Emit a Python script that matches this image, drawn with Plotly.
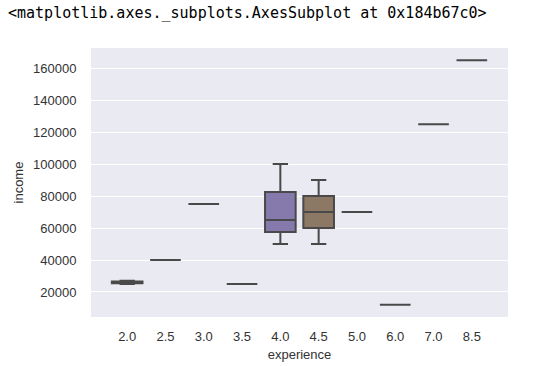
import plotly.graph_objects as go

experience = ["2.0", "2.5", "3.0", "3.5", "4.0", "4.5", "5.0", "6.0", "7.0", "8.5"]
q1 = [25500, 40000, 75000, 25000, 57500, 60000, 70000, 12000, 125000, 165000]
median = [26000, 40000, 75000, 25000, 65000, 70000, 70000, 12000, 125000, 165000]
q3 = [26500, 40000, 75000, 25000, 82500, 80000, 70000, 12000, 125000, 165000]
lower = [25000, 40000, 75000, 25000, 50000, 50000, 70000, 12000, 125000, 165000]
upper = [27000, 40000, 75000, 25000, 100000, 90000, 70000, 12000, 125000, 165000]
colors = ["#5975A4", "#CC8963", "#5F9E6E", "#B55D60", "#857AAB",
          "#8D7866", "#D095BF", "#8C8C8C", "#C1B37F", "#71AEC0"]
yticks = [20000, 40000, 60000, 80000, 100000, 120000, 140000, 160000]

fig = go.Figure()
for i, cat in enumerate(experience):
    fig.add_trace(go.Box(
        x=[cat], q1=[q1[i]], median=[median[i]], q3=[q3[i]],
        lowerfence=[lower[i]], upperfence=[upper[i]],
        fillcolor=colors[i], line=dict(color="#494949", width=2),
        width=0.8, whiskerwidth=0.5, boxpoints=False, showlegend=False,
    ))

fig.update_layout(
    width=539, height=366,
    margin=dict(l=91, r=31, t=48, b=49),
    paper_bgcolor="white", plot_bgcolor="#EAEAF2",
    boxmode="overlay",
    font=dict(family="Liberation Sans, Arial, sans-serif", size=13, color="#333333"),
    xaxis=dict(
        type="category", categoryorder="array", categoryarray=experience,
        showgrid=False, zeroline=False, showline=False, automargin=False,
        ticks="outside", ticklen=7, tickcolor="rgba(0,0,0,0)",
        title=dict(text="experience", standoff=7, font=dict(size=13)),
    ),
    yaxis=dict(
        range=[4350, 172650], tickvals=yticks, ticktext=[str(v) for v in yticks],
        showgrid=True, gridcolor="white", gridwidth=1.3, zeroline=False, showline=False,
        automargin=False,
        ticks="outside", ticklen=11, tickcolor="rgba(0,0,0,0)",
        title=dict(text="income", standoff=6, font=dict(size=13)),
    ),
)
fig.add_annotation(
    text="&lt;matplotlib.axes._subplots.AxesSubplot at 0x184b67c0&gt;",
    xref="paper", yref="paper", x=(6 - 91) / 417, y=1 + (48 - 13) / 269,
    xanchor="left", yanchor="middle", showarrow=False,
    font=dict(family="DejaVu Sans Mono, Liberation Mono, monospace", size=15, color="black"),
)
fig.write_html("out.html", post_script="document.body.style.margin='0';",
               config={"displayModeBar": False})
